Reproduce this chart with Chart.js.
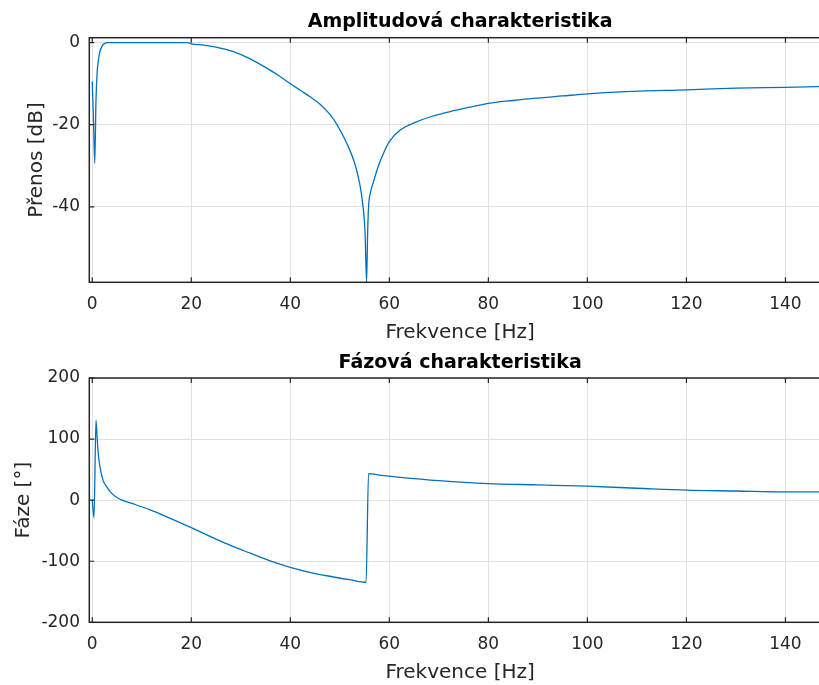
<!DOCTYPE html>
<html>
<head>
<meta charset="utf-8">
<title>Amplitudová a fázová charakteristika</title>
<script src="https://cdn.jsdelivr.net/npm/chart.js@4.4.0/dist/chart.umd.min.js"></script>
<style>
  html, body { margin: 0; padding: 0; background: #fff; overflow: hidden; }
  #wrap { position: relative; width: 819px; height: 685px; overflow: hidden; background: #fff; }
  canvas { position: absolute; left: 0; }
  #amp { top: 0; }
  #phase { top: 340px; }
</style>
</head>
<body>
<div id="wrap">
  <canvas id="amp" width="831" height="345"></canvas>
  <canvas id="phase" width="831" height="345"></canvas>
</div>
<script>
// amplitude response
const ampFreq = [0, 0.25, 0.5, 0.75, 1, 1.25, 1.5, 2, 2.5, 3, 5, 10, 15, 19.3, 20, 22.5, 25, 28.5, 31.8, 35.9,
  38, 39.9, 42, 44, 46, 48, 49.4, 51.4, 53, 54, 54.6, 55.1, 55.4, 55.6, 55.8, 56.2, 56.8, 57.8, 58.8, 60,
  62.2, 65.5, 68.5, 72.3, 76, 80, 85, 89, 95, 100, 109, 120, 130, 140, 149.2];
const ampDb = [-9.5, -19, -29.4, -14, -7, -4.2, -2.4, -0.8, -0.2, 0, 0, 0, 0, 0, -0.3, -0.6, -1.1, -2.2, -3.9, -6.7,
  -8.3, -9.9, -11.6, -13.2, -15, -17.5, -19.9, -24.5, -29.4, -34.3, -39, -46.4, -58.3, -47, -40, -36.5, -33.9, -30, -27, -24.1,
  -21.3, -19.3, -18, -16.8, -15.8, -14.8, -14.1, -13.6, -13, -12.5, -11.9, -11.5, -11.1, -10.9, -10.65];

// phase response
const phaseFreq = [0, 0.35, 0.75, 1.0, 1.2, 1.55, 2.2, 2.9, 3.6, 4.6, 6, 8.6, 11.7, 14.7, 20, 24, 27.8, 31.8, 35.8, 40,
  44.1, 48.2, 52.2, 55.3, 55.8, 58, 62.2, 70, 80, 90, 100, 110, 120, 130, 140, 149.2];
const phaseDeg = [0, -28.6, 131, 100, 77, 55, 32, 22, 14, 6.5, 0, -7, -16, -26, -45, -60, -73.7, -86.5, -99, -110,
  -118.5, -125, -130.6, -134.5, 43.4, 41, 37.4, 32, 27.2, 25, 22.8, 19.5, 16.3, 15, 13.6, 13.6];

const freqTicks = [0, 20, 40, 60, 80, 100, 120, 140];
const ampTicks = [-40, -20, 0];
const phaseTicks = [-200, -100, 0, 100, 200];

const FONT = 'DejaVu Sans';
const INK = '#262626';
const GRID = '#e1e1e1';

function toPoints(xs, ys) {
    return xs.map((x, i) => ({ x: x, y: ys[i] }));
}

// matlab style box: dark frame, short ticks pointing inwards
const matlabBox = {
    id: 'matlabBox',
    afterDraw(chart) {
        const { ctx, chartArea: a, scales } = chart;
        ctx.save();
        ctx.strokeStyle = INK;
        ctx.lineWidth = 1.5;
        ctx.strokeRect(a.left, a.top, a.right - a.left, a.bottom - a.top);
        ctx.lineWidth = 1.2;
        ctx.beginPath();
        scales.x.ticks.forEach(t => {
            const px = scales.x.getPixelForValue(t.value);
            ctx.moveTo(px, a.bottom); ctx.lineTo(px, a.bottom - 5);
            ctx.moveTo(px, a.top); ctx.lineTo(px, a.top + 5);
        });
        scales.y.ticks.forEach(t => {
            const py = scales.y.getPixelForValue(t.value);
            ctx.moveTo(a.left, py); ctx.lineTo(a.left + 5, py);
            ctx.moveTo(a.right, py); ctx.lineTo(a.right - 5, py);
        });
        ctx.stroke();
        ctx.restore();
    }
};

function makeChart(id, cfg) {
    return new Chart(document.getElementById(id), {
        type: 'line',
        data: {
            datasets: [{
                data: toPoints(cfg.xs, cfg.ys),
                borderColor: '#0072BD',
                borderWidth: 1.3,
                pointRadius: 0,
                cubicInterpolationMode: 'monotone',
                fill: false
            }]
        },
        options: {
            responsive: false,
            animation: false,
            devicePixelRatio: 1,
            layout: { padding: 0 },
            plugins: {
                legend: { display: false },
                tooltip: { enabled: false },
                title: {
                    display: true,
                    text: cfg.title,
                    fullSize: false,
                    color: '#000',
                    font: { family: FONT, size: 19, weight: 'bold', lineHeight: 1.2 },
                    padding: cfg.titlePad
                }
            },
            scales: {
                x: {
                    type: 'linear',
                    min: -0.6,
                    max: 149.2,
                    afterBuildTicks: s => { s.ticks = freqTicks.map(v => ({ value: v })); },
                    afterFit: s => { s.height = 62.7; },
                    grid: { color: GRID, drawTicks: false },
                    border: { display: false },
                    ticks: { color: INK, padding: 12.5, maxRotation: 0, font: { family: FONT, size: 17 } },
                    title: {
                        display: true,
                        text: 'Frekvence [Hz]',
                        color: INK,
                        padding: { top: 0, bottom: 0 },
                        font: { family: FONT, size: 20, lineHeight: 1.2 }
                    }
                },
                y: {
                    type: 'linear',
                    min: cfg.min,
                    max: cfg.max,
                    afterBuildTicks: s => { s.ticks = cfg.ticks.map(v => ({ value: v })); },
                    afterFit: s => { s.width = 89.3; },
                    grid: { color: GRID, drawTicks: false },
                    border: { display: false },
                    ticks: { color: INK, padding: 9.3, font: { family: FONT, size: 17 } },
                    title: {
                        display: true,
                        text: cfg.yTitle,
                        color: INK,
                        padding: { top: cfg.yTitlePad, bottom: 0 },
                        font: { family: FONT, size: 20, lineHeight: 1.2 }
                    }
                }
            }
        },
        plugins: [matlabBox]
    });
}

makeChart('amp', {
    xs: ampFreq, ys: ampDb,
    title: 'Amplitudová charakteristika',
    titlePad: { top: 10.6, bottom: 4.3 },
    yTitle: 'Přenos [dB]', yTitlePad: 24.4,
    min: -58.4, max: 1.2, ticks: ampTicks
});

makeChart('phase', {
    xs: phaseFreq, ys: phaseDeg,
    title: 'Fázová charakteristika',
    titlePad: { top: 11.6, bottom: 3.6 },
    yTitle: 'Fáze [°]', yTitlePad: 12.1,
    min: -200, max: 200, ticks: phaseTicks
});
</script>
</body>
</html>
